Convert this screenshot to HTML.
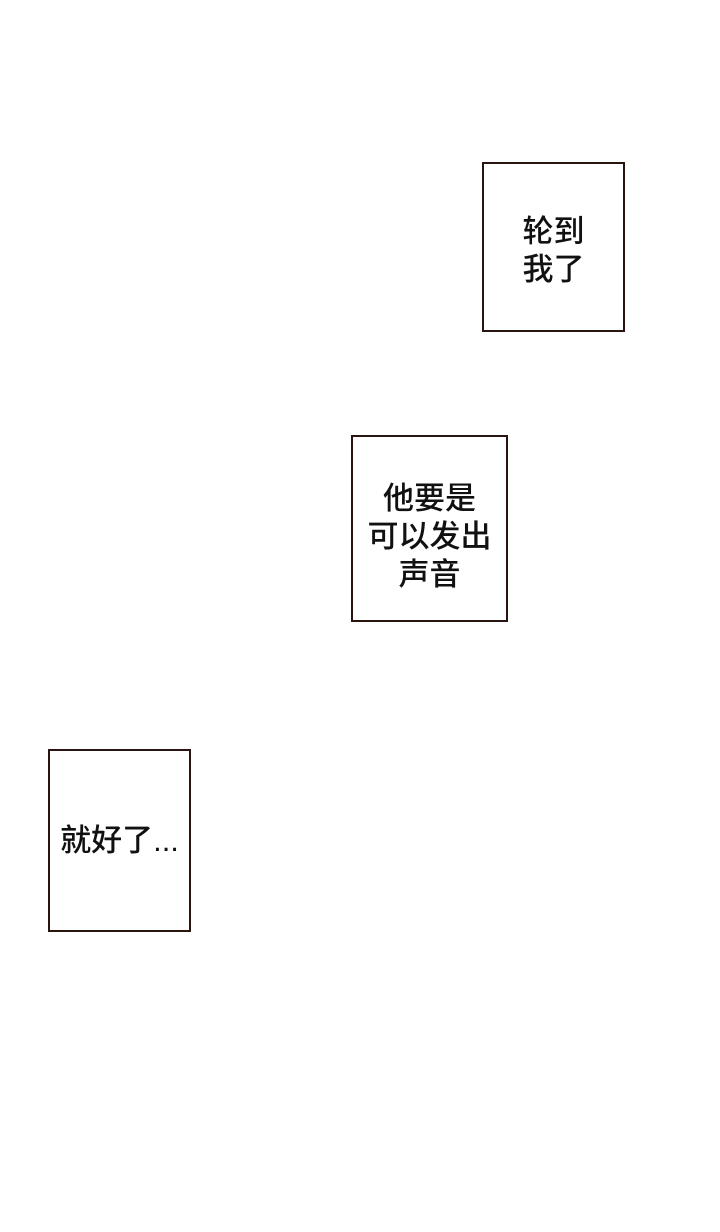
<!DOCTYPE html>
<html><head><meta charset="utf-8"><style>
body{margin:0;width:720px;height:1232px;background:#fff;position:relative;overflow:hidden}
.b{position:absolute;box-sizing:border-box;border:2px solid #2a1410;display:flex;align-items:center;justify-content:center;text-align:center;font-family:"Liberation Sans","Noto Sans CJK SC",sans-serif;font-size:31px;font-weight:500;line-height:38px;color:#111}
</style></head><body>
<div class="b" style="left:482px;top:162px;width:143px;height:170px;padding-top:8px">轮到<br>我了</div>
<div class="b" style="left:351px;top:435px;width:157px;height:187px;padding-top:16px">他要是<br>可以发出<br>声音</div>
<div class="b" style="left:48px;top:749px;width:143px;height:183px">就好了...</div>
</body></html>
